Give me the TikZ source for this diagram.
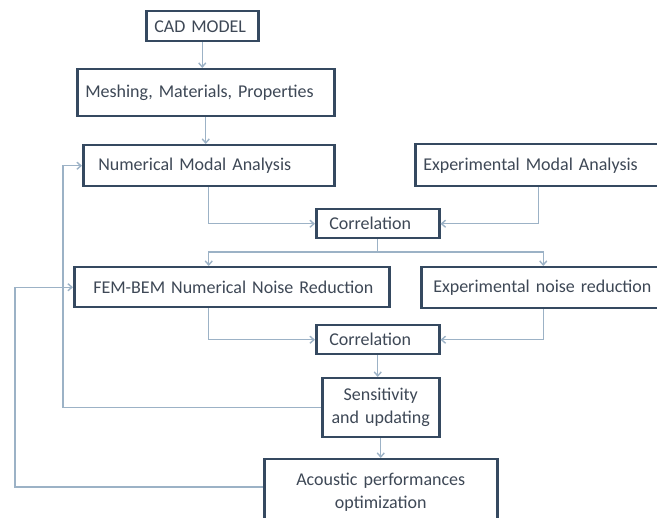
\documentclass[tikz,border=0pt]{standalone}
\usepackage{fontspec}
\setmainfont{Carlito}[WordSpace=0.6]
\usetikzlibrary{arrows.meta}
\definecolor{boxline}{HTML}{354960}
\definecolor{txtcol}{HTML}{3E4856}
\definecolor{conn}{HTML}{9CB2C6}
\tikzset{
  box/.style={draw=boxline, line width=2.5pt, fill=white, rectangle, anchor=north west,
    text=txtcol, font=\fontsize{18}{23}\selectfont, inner ysep=0pt, align=left},
  cbox/.style={box, align=center},
  arr/.style={draw=conn, line width=1.4pt, -{Straight Barb[length=4pt,width=7pt]}},
  ln/.style={draw=conn, line width=1.4pt}
}
\begin{document}
\begin{tikzpicture}[x=1pt,y=-1pt]
\useasboundingbox (0,0) rectangle (657,518);
\clip (0,0) rectangle (657,518);
\fill[white] (0,0) rectangle (657,518);
% boxes: width W = text width + 2*inner xsep
\node[box, inner xsep=8pt, text width=96pt, minimum height=30pt] (cad) at (145,10) {\mbox{CAD MODEL}};
\node[box, inner xsep=8pt, text width=241pt, minimum height=47pt] (mesh) at (76,68) {\mbox{Meshing, Materials, Properties}};
\node[box, inner xsep=15pt, text width=221pt, minimum height=41pt] (num) at (82,144) {\mbox{Numerical Modal Analysis}};
\node[box, inner xsep=8pt, text width=230pt, minimum height=42pt] (expm) at (414,143) {\mbox{Experimental Modal Analysis}};
\node[box, inner xsep=13pt, text width=97pt, minimum height=29pt] (corA) at (315,208) {\mbox{Correlation}};
\node[box, inner xsep=19pt, text width=277pt, minimum height=40pt] (fem) at (73,266) {\mbox{FEM-BEM Numerical Noise Reduction}};
\node[box, inner xsep=12pt, text width=220pt, minimum height=41pt] (expn) at (420,266) {\mbox{Experimental noise reduction}};
\node[box, inner xsep=13pt, text width=97pt, minimum height=29pt] (corB) at (315,324) {\mbox{Correlation}};
\node[cbox, inner xsep=4pt, text width=109pt, minimum height=59pt] (sens) at (321,377) {Sensitivity\\and updating};
\node[cbox, inner xsep=4pt, text width=225pt, minimum height=66pt] (acou) at (263,458) {Acoustic performances\\optimization};
% helper coordinates
\coordinate (split) at (corA.south |- 0,252);
\coordinate (fbA) at (63,230);
\coordinate (fbB) at (15,380);
% connectors
\draw[arr] (cad.south) -- (cad.south |- mesh.north);
\draw[arr] (mesh.south) -- (mesh.south |- num.north);
\draw[arr] (num.south) |- (corA.west);
\draw[arr] (expm.south) |- (corA.east);
\draw[ln] (corA.south) -- (split);
\draw[arr] (split) -| (num.south |- fem.north);
\draw[arr] (split) -| (expn.north);
\draw[arr] (num.south |- fem.south) |- (corB.west);
\draw[arr] (expn.south) |- (corB.east);
\draw[arr] (corB.south) -- (corB.south |- sens.north);
\draw[arr] (sens.south) -- (sens.south |- acou.north);
\draw[arr] (sens.west) -| (fbA) |- (num.west);
\draw[arr] (acou.west |- 0,487) -| (fbB) |- (fem.west);
\end{tikzpicture}
\end{document}
